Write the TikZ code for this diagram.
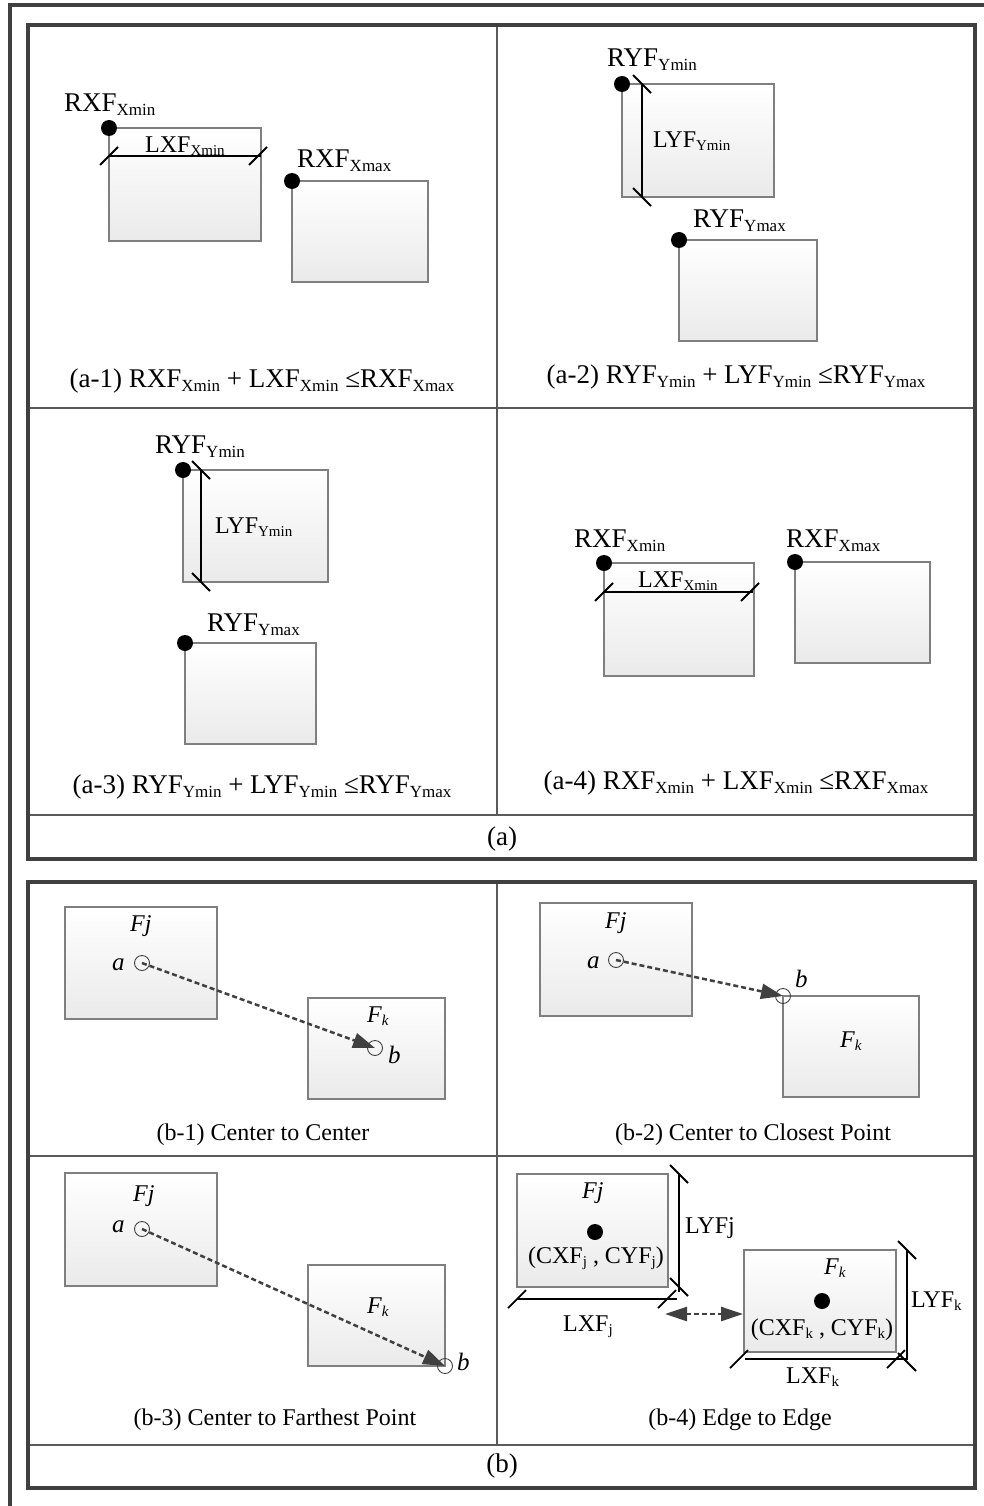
\documentclass[tikz,border=0pt]{standalone}
\usepackage{fontspec}
\setmainfont{Liberation Serif}
\usetikzlibrary{arrows.meta,fit}
\definecolor{framec}{HTML}{404040}
\definecolor{divc}{HTML}{5A5A5A}
\definecolor{boxc}{HTML}{7F7F7F}
\definecolor{boxbot}{HTML}{EAEAEA}
\definecolor{arrc}{HTML}{404040}
\newcommand\sbA[1]{\raisebox{-4pt}{\fontsize{17}{17}\selectfont #1}}
\newcommand\sbB[1]{\raisebox{-3pt}{\fontsize{15}{15}\selectfont #1}}
\tikzset{
  outerframe/.style={draw=framec, line width=4pt},
  panelframe/.style={draw=framec, line width=3.5pt},
  divider/.style={draw=divc, line width=1.3pt},
  fbox/.style={draw=boxc, line width=1.2pt, top color=white, bottom color=boxbot, inner sep=0pt, outer sep=0pt, minimum size=0pt},
  bdot/.style={circle, fill=black, minimum size=16pt, inner sep=0pt},
  cdot/.style={circle, fill=black, minimum size=16pt, inner sep=0pt},
  ring/.style={circle, draw=arrc, line width=0.9pt, minimum size=15pt, inner sep=0pt},
  dim/.style={draw=black, line width=2pt},
  tickln/.style={draw=black, line width=1.8pt},
  slash/.pic={\draw[tickln] (-9,9) -- (9,-9);},
  bslash/.pic={\draw[tickln] (-9,-9) -- (9,9);},
  darrow/.style={draw=arrc, line width=2.5pt, dash pattern=on 5pt off 3pt, -{Triangle[length=22pt,width=15pt]}},
  ddarrow/.style={draw=arrc, line width=2.5pt, dash pattern=on 5pt off 3pt, {Triangle[length=22pt,width=14pt]}-{Triangle[length=22pt,width=14pt]}},
  big/.style={font=\fontsize{27}{30}\selectfont, inner sep=0pt},
  mid/.style={font=\fontsize{24}{28}\selectfont, inner sep=0pt},
  itl/.style={font=\fontsize{24}{28}\selectfont\itshape, inner sep=0pt},
  itb/.style={font=\fontsize{25}{28}\selectfont\itshape, inner sep=0pt},
}
\begin{document}
\begin{tikzpicture}[x=1pt,y=-1pt]
\useasboundingbox (0,0) rectangle (984,1506);
% outer frame
\draw[outerframe] (9.5,1506) -- (9.5,5) -- (984,5);
% panel (a)
\draw[divider] (497,25) -- (497,815);
\draw[divider] (28,408) -- (975,408);
\draw[divider] (28,815) -- (975,815);
\draw[panelframe] (28,25) rectangle (975,859);
\node[big, anchor=base] (capa) at (502,845) {(a)};
% panel (b)
\draw[divider] (497,883) -- (497,1445);
\draw[divider] (28,1156) -- (975,1156);
\draw[divider] (28,1445) -- (975,1445);
\draw[panelframe] (28,882) rectangle (975,1488);
\node[big, anchor=base] (capb) at (502,1472) {(b)};

% ---------- (a-1)
\node[fbox, fit={(109,128)(261,241)}] (a1A) {};
\node[fbox, fit={(292,181)(428,282)}] (a1B) {};
\coordinate (a1L) at (109,156); \coordinate (a1R) at (261,156);
\draw[dim] (a1L) -- (a1R);
\pic at (a1L) {slash}; \pic at (258,156) {slash};
\node[bdot] (a1Ad) at (a1A.north west) {};
\node[bdot] (a1Bd) at (a1B.north west) {};
\node[big, anchor=base west] (a1t1) at (64,112) {RXF\sbA{Xmin}};
\node[mid, anchor=base west] (a1t2) at (145,153) {LXF\sbB{Xmin}};
\node[big, anchor=base west] (a1t3) at (297,168) {RXF\sbA{Xmax}};
\node[big, anchor=base] (a1c) at (262,387) {(a-1) RXF\sbA{Xmin} + LXF\sbA{Xmin} ≤RXF\sbA{Xmax}};

% ---------- (a-2)
\node[fbox, fit={(622,84)(774,197)}] (a2A) {};
\node[fbox, fit={(679,240)(817,341)}] (a2B) {};
\coordinate (a2T) at (642,84); \coordinate (a2D) at (642,197);
\draw[dim] (a2T) -- (a2D);
\pic at (a2T) {bslash}; \pic at (a2D) {bslash};
\node[bdot] (a2Ad) at (a2A.north west) {};
\node[bdot] (a2Bd) at (a2B.north west) {};
\node[big, anchor=base west] (a2t1) at (607,67) {RYF\sbA{Ymin}};
\node[mid, anchor=base west] (a2t2) at (653,148) {LYF\sbB{Ymin}};
\node[big, anchor=base west] (a2t3) at (693,228) {RYF\sbA{Ymax}};
\node[big, anchor=base] (a2c) at (736,383) {(a-2) RYF\sbA{Ymin} + LYF\sbA{Ymin} ≤RYF\sbA{Ymax}};

% ---------- (a-3)
\node[fbox, fit={(183,470)(328,582)}] (a3A) {};
\node[fbox, fit={(185,643)(316,744)}] (a3B) {};
\coordinate (a3T) at (201,470); \coordinate (a3D) at (201,582);
\draw[dim] (a3T) -- (a3D);
\pic at (a3T) {bslash}; \pic at (a3D) {bslash};
\node[bdot] (a3Ad) at (a3A.north west) {};
\node[bdot] (a3Bd) at (a3B.north west) {};
\node[big, anchor=base west] (a3t1) at (155,453) {RYF\sbA{Ymin}};
\node[mid, anchor=base west] (a3t2) at (215,533) {LYF\sbB{Ymin}};
\node[big, anchor=base west] (a3t3) at (207,631) {RYF\sbA{Ymax}};
\node[big, anchor=base] (a3c) at (262,793) {(a-3) RYF\sbA{Ymin} + LYF\sbA{Ymin} ≤RYF\sbA{Ymax}};

% ---------- (a-4)
\node[fbox, fit={(604,563)(754,676)}] (a4A) {};
\node[fbox, fit={(795,562)(930,663)}] (a4B) {};
\coordinate (a4L) at (604,592); \coordinate (a4R) at (753,592);
\draw[dim] (a4L) -- (a4R);
\pic at (a4L) {slash}; \pic at (750,592) {slash};
\node[bdot] (a4Ad) at (a4A.north west) {};
\node[bdot] (a4Bd) at (a4B.north west) {};
\node[big, anchor=base west] (a4t1) at (574,547) {RXF\sbA{Xmin}};
\node[mid, anchor=base west] (a4t2) at (638,587) {LXF\sbB{Xmin}};
\node[big, anchor=base west] (a4t3) at (786,547) {RXF\sbA{Xmax}};
\node[big, anchor=base] (a4c) at (736,789) {(a-4) RXF\sbA{Xmin} + LXF\sbA{Xmin} ≤RXF\sbA{Xmax}};

% ---------- (b-1)
\node[fbox, fit={(65,907)(217,1019)}] (b1j) {};
\node[fbox, fit={(308,998)(445,1099)}] (b1k) {};
\node[itl, anchor=base west] (b1tj) at (130,931) {Fj};
\node[itl, anchor=base west] (b1tk) at (367,1022) {F\sbB{k}};
\node[ring] (b1a) at (142,963) {};
\node[ring] (b1b) at (375,1048) {};
\node[itb, anchor=base west] (b1ta) at (112,970) {a};
\node[itb, anchor=base west] (b1tb) at (388,1063) {b};
\draw[darrow] (b1a.center) -- (b1b.center);
\node[mid, anchor=base] (b1c) at (263,1140) {(b-1) Center to Center};

% ---------- (b-2)
\node[fbox, fit={(540,903)(692,1016)}] (b2j) {};
\node[fbox, fit={(783,996)(919,1097)}] (b2k) {};
\node[itl, anchor=base west] (b2tj) at (605,928) {Fj};
\node[itl, anchor=base west] (b2tk) at (840,1047) {F\sbB{k}};
\node[ring] (b2a) at (616,960) {};
\node[ring] (b2b) at (b2k.north west) {};
\node[itb, anchor=base west] (b2ta) at (587,968) {a};
\node[itb, anchor=base west] (b2tb) at (795,987) {b};
\draw[darrow] (b2a.center) -- (b2b.center);
\node[mid, anchor=base] (b2c) at (753,1140) {(b-2) Center to Closest Point};

% ---------- (b-3)
\node[fbox, fit={(65,1173)(217,1286)}] (b3j) {};
\node[fbox, fit={(308,1265)(445,1366)}] (b3k) {};
\node[itl, anchor=base west] (b3tj) at (133,1201) {Fj};
\node[itl, anchor=base west] (b3tk) at (367,1313) {F\sbB{k}};
\node[ring] (b3a) at (142,1229) {};
\node[ring] (b3b) at (b3k.south east) {};
\node[itb, anchor=base west] (b3ta) at (112,1232) {a};
\node[itb, anchor=base west] (b3tb) at (457,1370) {b};
\draw[darrow] (b3a.center) -- (b3b.center);
\node[mid, anchor=base] (b3c) at (275,1425) {(b-3) Center to Farthest Point};

% ---------- (b-4)
\node[fbox, fit={(517,1174)(668,1287)}] (b4j) {};
\node[fbox, fit={(744,1250)(896,1352)}] (b4k) {};
\node[itl, anchor=base west] (b4tj) at (582,1198) {Fj};
\node[itl, anchor=base west] (b4tk) at (824,1274) {F\sbB{k}};
\node[cdot] (b4dj) at (595,1232) {};
\node[cdot] (b4dk) at (822,1301) {};
\node[mid, anchor=base] (b4cj) at (596,1263) {(CXF\sbB{j} , CYF\sbB{j})};
\node[mid, anchor=base] (b4ck) at (822,1335) {(CXF\sbB{k} , CYF\sbB{k})};
% Fj dimensions
\coordinate (b4jT) at (679,1174); \coordinate (b4jD) at (679,1292);
\draw[dim] (b4jT) -- (b4jD);
\pic at (b4jT) {bslash}; \pic at (679,1287) {bslash};
\coordinate (b4jL) at (517,1299); \coordinate (b4jR) at (677,1299);
\draw[dim] (b4jL) -- (b4jR);
\pic at (b4jL) {slash}; \pic at (667,1299) {slash};
\node[mid, anchor=base west] (b4tly) at (685,1233) {LYFj};
\node[mid, anchor=base west] (b4tlx) at (563,1331) {LXF\sbB{j}};
% Fk dimensions
\coordinate (b4kT) at (907,1250); \coordinate (b4kD) at (907,1360);
\draw[dim] (b4kT) -- (b4kD);
\pic at (b4kT) {bslash}; \pic at (907,1362) {bslash};
\coordinate (b4kL) at (745,1359); \coordinate (b4kR) at (907,1359);
\draw[dim] (b4kL) -- (b4kR);
\pic at (739,1359) {slash}; \pic at (896,1359) {slash};
\node[mid, anchor=base west] (b4tky) at (911,1307) {LYF\sbB{k}};
\node[mid, anchor=base west] (b4tkx) at (786,1383) {LXF\sbB{k}};
% double arrow
\coordinate (b4AL) at (665,1314); \coordinate (b4AR) at (743,1314);
\draw[ddarrow] (b4AL) -- (b4AR);
\node[mid, anchor=base] (b4c) at (740,1425) {(b-4) Edge to Edge};
\end{tikzpicture}
\end{document}
